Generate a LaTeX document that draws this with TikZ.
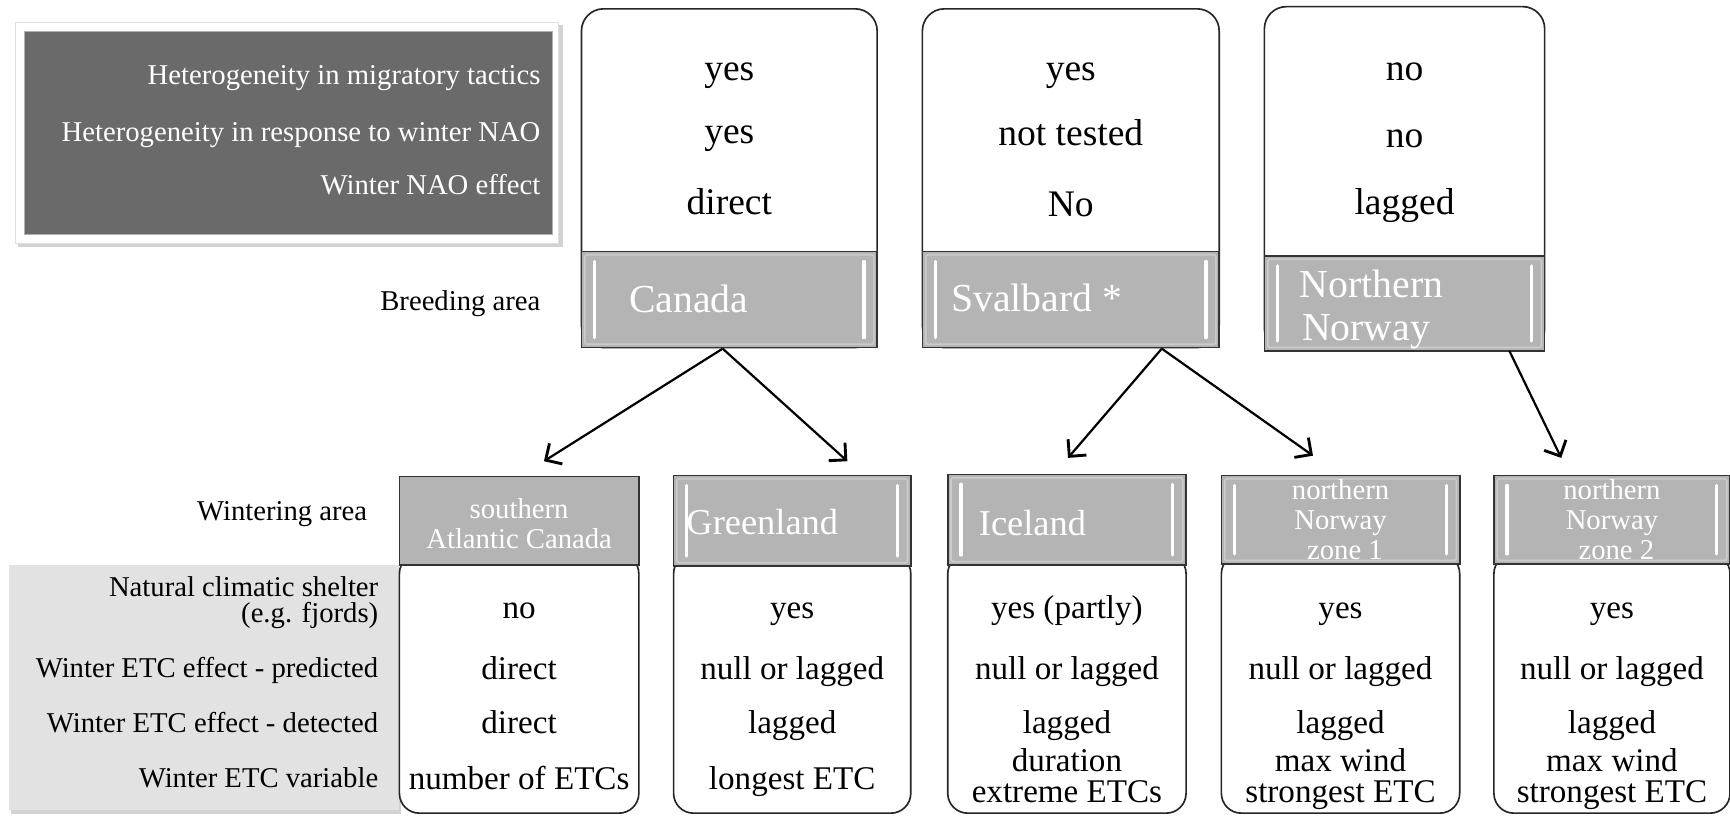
\documentclass[tikz,border=0pt]{standalone}
\usepackage{fontspec}
\setmainfont{Liberation Serif}
\usetikzlibrary{arrows.meta}
\definecolor{darkbox}{HTML}{6A6A6A}
\definecolor{hdrgray}{HTML}{B4B4B4}
\definecolor{lightbox}{HTML}{E2E2E2}
\definecolor{shadowgray}{HTML}{D2D2D2}
\tikzset{
  legtext/.style={text=white, font=\fontsize{26}{28}\selectfont, inner sep=0pt, anchor=base east},
  sidetext/.style={text=black, font=\fontsize{26}{28}\selectfont, inner sep=0pt, anchor=base east},
  topval/.style={text=black, font=\fontsize{34}{36}\selectfont, inner sep=0pt, anchor=base},
  botval/.style={text=black, font=\fontsize{30}{32}\selectfont, inner sep=0pt, anchor=base},
  bighdr/.style={text=white, font=\fontsize{36}{38}\selectfont, inner sep=0pt, anchor=base west},
  midhdr/.style={text=white, font=\fontsize{33}{35}\selectfont, inner sep=0pt, anchor=base west},
  smallhdr/.style={text=white, font=\fontsize{26}{28}\selectfont, inner sep=0pt, anchor=base},
  topbox/.style={draw=black!85, line width=1.5pt, fill=white, rounded corners=20pt, inner sep=0pt, outer sep=0pt},
  botbox/.style={draw=black!85, line width=1.5pt, fill=white, rounded corners=18pt, inner sep=0pt, outer sep=0pt},
  hdrbox/.style={draw=black!80, line width=1.5pt, fill=hdrgray, inner sep=0pt, outer sep=0pt},
  bevelframe/.style={draw=white!30!hdrgray, line width=1.5pt, rounded corners=2pt},
  bevelline/.style={draw=white, line width=3pt, line cap=round},
  conn/.style={draw=black, line width=2pt, -{Straight Barb[length=11pt, width=22pt, line width=2.6pt]}},
}
\newcommand{\bevel}[1]{%
  \draw[bevelframe] ([shift={(3pt,-3pt)}]#1.north west) rectangle ([shift={(-3pt,3pt)}]#1.south east);
  \draw[bevelline] ([shift={(12pt,-9pt)}]#1.north west) -- ([shift={(12pt,9pt)}]#1.south west);
  \draw[bevelline] ([shift={(-12pt,-9pt)}]#1.north east) -- ([shift={(-12pt,9pt)}]#1.south east);
}
\begin{document}
\begin{tikzpicture}[x=1pt, y=-1pt]
\useasboundingbox (0,0) rectangle (1568,739);

% legend box
\fill[shadowgray] (16,23) rectangle (510,224);
\node[draw=black!12, fill=white, minimum width=492pt, minimum height=200pt, anchor=north west, inner sep=0pt] (legframe) at (14,20) {};
\node[fill=darkbox, draw=black!30, minimum width=478pt, minimum height=184pt, anchor=north west, inner sep=0pt] (legend) at (22,28) {};
\node[legtext] (leg1) at (490,77) {Heterogeneity in migratory tactics};
\node[legtext] (leg2) at (490,128) {Heterogeneity in response to winter NAO};
\node[legtext] (leg3) at (490,176) {Winter NAO effect};

\node[sidetext] (breed) at (490,281) {Breeding area};
\node[sidetext] (winter) at (333,472) {Wintering area};

% top boxes
\node[topbox, minimum width=268pt, minimum height=307pt, anchor=north] (canbox) at (661,8) {};
\node[hdrbox, minimum width=268pt, minimum height=87pt, anchor=north] (canhdr) at (661,228) {};
\bevel{canhdr}
\node[topval] (can1) at (661,73) {yes};
\node[topval] (can2) at (661,130) {yes};
\node[topval] (can3) at (661,194) {direct};
\node[bighdr] (cant) at (570,283) {Canada};

\node[topbox, minimum width=269pt, minimum height=307pt, anchor=north] (svbox) at (970.5,8) {};
\node[hdrbox, minimum width=269pt, minimum height=87pt, anchor=north] (svhdr) at (970.5,228) {};
\bevel{svhdr}
\node[topval] (sv1) at (970.5,73) {yes};
\node[topval] (sv2) at (970.5,132) {not tested};
\node[topval] (sv3) at (970.5,196) {No};
\node[bighdr] (svt) at (862,282) {Svalbard *};

\node[topbox, minimum width=254pt, minimum height=312pt, anchor=north] (nnbox) at (1273,6) {};
\node[hdrbox, minimum width=254pt, minimum height=86pt, anchor=north] (nnhdr) at (1273,232) {};
\bevel{nnhdr}
\node[topval] (nn1) at (1273,73) {no};
\node[topval] (nn2) at (1273,134) {no};
\node[topval] (nn3) at (1273,194) {lagged};
\node[bighdr] (nnt1) at (1178,270) {Northern};
\node[bighdr] (nnt2) at (1180,309) {Norway};

% side label box
\fill[shadowgray] (10,515) rectangle (363,738);
\node[fill=lightbox, minimum width=353pt, minimum height=222pt, anchor=north west, inner sep=0pt] (labels) at (8,512) {};
\node[sidetext] (lab1a) at (343,541) {Natural climatic shelter};
\node[sidetext] (lab1b) at (343,564) {(e.g. fjords)};
\node[sidetext] (lab2) at (343,614) {Winter ETC effect - predicted};
\node[sidetext] (lab3) at (343,664) {Winter ETC effect - detected};
\node[sidetext] (lab4) at (343,714) {Winter ETC variable};

% bottom boxes
\node[botbox, minimum width=217pt, minimum height=235pt, anchor=north] (b1) at (470.5,502) {};
\node[hdrbox, minimum width=217pt, minimum height=80pt, anchor=north] (h1) at (470.5,432) {};
\node[smallhdr] (h1a) at (470.5,470) {southern};
\node[smallhdr] (h1b) at (470.5,497) {Atlantic Canada};
\node[botval] (b1r1) at (470.5,561) {no};
\node[botval] (b1r2) at (470.5,616) {direct};
\node[botval] (b1r3) at (470.5,665) {direct};
\node[botval] (b1r4) at (470.5,716) {number of ETCs};

\node[botbox, minimum width=215pt, minimum height=235pt, anchor=north] (b2) at (718,502) {};
\node[hdrbox, minimum width=215pt, minimum height=82pt, anchor=north] (h2) at (718,431) {};
\bevel{h2}
\node[midhdr] (h2t) at (622,484) {Greenland};
\node[botval] (b2r1) at (718,561) {yes};
\node[botval] (b2r2) at (718,616) {null or lagged};
\node[botval] (b2r3) at (718,665) {lagged};
\node[botval] (b2r4) at (718,716) {longest ETC};

\node[botbox, minimum width=216pt, minimum height=235pt, anchor=north] (b3) at (967,502) {};
\node[hdrbox, minimum width=216pt, minimum height=82pt, anchor=north] (h3) at (967,430) {};
\bevel{h3}
\node[midhdr] (h3t) at (887,485) {Iceland};
\node[botval] (b3r1) at (967,561) {yes (partly)};
\node[botval] (b3r2) at (967,616) {null or lagged};
\node[botval] (b3r3) at (967,665) {lagged};
\node[botval] (b3r4a) at (967,699) {duration};
\node[botval] (b3r4b) at (967,727) {extreme ETCs};

\node[botbox, minimum width=216pt, minimum height=235pt, anchor=north] (b4) at (1215,502) {};
\node[hdrbox, minimum width=216pt, minimum height=80pt, anchor=north] (h4) at (1215,431) {};
\bevel{h4}
\node[smallhdr] (h4a) at (1215,453) {northern};
\node[smallhdr] (h4b) at (1215,480) {Norway};
\node[smallhdr] (h4c) at (1219,507) {zone 1};
\node[botval] (b4r1) at (1215,561) {yes};
\node[botval] (b4r2) at (1215,616) {null or lagged};
\node[botval] (b4r3) at (1215,665) {lagged};
\node[botval] (b4r4a) at (1215,699) {max wind};
\node[botval] (b4r4b) at (1215,727) {strongest ETC};

\node[botbox, minimum width=214pt, minimum height=235pt, anchor=north] (b5) at (1461,502) {};
\node[hdrbox, minimum width=214pt, minimum height=80pt, anchor=north] (h5) at (1461,431) {};
\bevel{h5}
\node[smallhdr] (h5a) at (1461,453) {northern};
\node[smallhdr] (h5b) at (1461,480) {Norway};
\node[smallhdr] (h5c) at (1465,507) {zone 2};
\node[botval] (b5r1) at (1461,561) {yes};
\node[botval] (b5r2) at (1461,616) {null or lagged};
\node[botval] (b5r3) at (1461,665) {lagged};
\node[botval] (b5r4a) at (1461,699) {max wind};
\node[botval] (b5r4b) at (1461,727) {strongest ETC};

% connectors
\coordinate (canout) at (655,316);
\coordinate (svout) at (1053,316);
\coordinate (nnout) at (1368,318);
\coordinate (to1) at (493,418);
\coordinate (to2) at (768,418);
\coordinate (to3) at (968,415);
\coordinate (to4) at (1190,413);
\coordinate (to5) at (1415,415);
\draw[conn] (canout) -- (to1);
\draw[conn] (canout) -- (to2);
\draw[conn] (svout) -- (to3);
\draw[conn] (svout) -- (to4);
\draw[conn] (nnout) -- (to5);
\end{tikzpicture}
\end{document}
